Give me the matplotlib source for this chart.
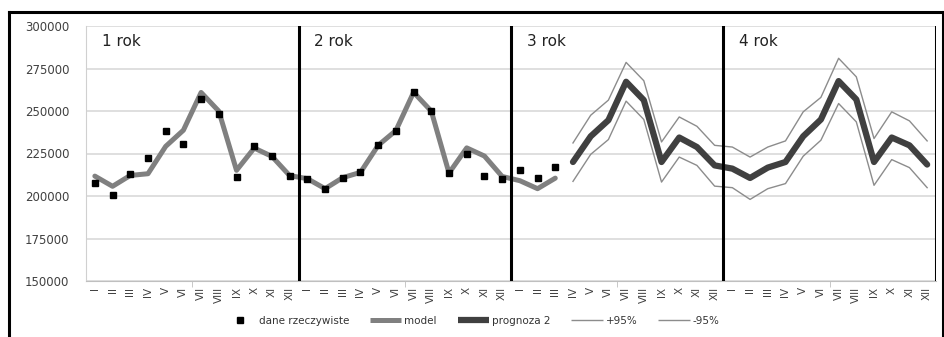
import numpy as np
import matplotlib
matplotlib.use("Agg")
import matplotlib.pyplot as plt
from matplotlib.lines import Line2D

months = ["I", "II", "III", "IV", "V", "VI", "VII", "VIII", "IX", "X", "XI", "XII"]
years = ["1 rok", "2 rok", "3 rok", "4 rok"]

# dane rzeczywiste: rok 1, rok 2, rok 3 (I-III)
actual = [207600, 200400, 213100, 222300, 238500, 230400, 257100, 248100, 211100, 229200, 223300, 211500,
          209800, 204300, 210800, 213900, 229800, 238500, 260900, 249900, 213500, 224700, 212000, 210000,
          215500, 210400, 217300]
# model: rok 1, rok 2, rok 3 (I-III)
model = [211700, 205700, 212100, 213100, 229200, 238700, 260900, 249900, 215100, 228200, 223300, 212000,
         210200, 204300, 210800, 213900, 229800, 238500, 261000, 249900, 213500, 228300, 223500, 211500,
         209000, 204300, 210500]
# prognoza 2: rok 3 (IV-XII), rok 4
forecast = [220000, 235100, 244600, 267200, 256400, 220000, 234400, 228800, 218000,
            216100, 210600, 216700, 220000, 235100, 245000, 267600, 256800, 220000, 234400, 229800, 218500]
upper = [231200, 247500, 256400, 278600, 267800, 231800, 246500, 241000, 229800,
         228800, 222900, 228800, 232400, 249500, 258000, 281000, 270100, 233800, 249500, 244200, 232400]
lower = [208600, 224500, 233200, 255800, 245000, 208200, 222900, 218000, 205800,
         204900, 198000, 204300, 207300, 223400, 232800, 254400, 243600, 206300, 221400, 216700, 204900]

x_actual = np.arange(len(actual))
x_model = np.arange(len(model))
x_fc = np.arange(27, 27 + len(forecast))

fig = plt.figure(figsize=(9.44, 3.37), dpi=100)
ax = fig.add_axes([86 / 944, 1 - 281 / 337, 850 / 944, 255 / 337])

ax.plot(x_model, model, color="#808080", lw=3.6, solid_capstyle="round", solid_joinstyle="round", zorder=3)
ax.plot(x_fc, upper, color="#8c8c8c", lw=1.0, zorder=3)
ax.plot(x_fc, lower, color="#8c8c8c", lw=1.0, zorder=3)
ax.plot(x_fc, forecast, color="#404040", lw=4.5, solid_capstyle="round", solid_joinstyle="round", zorder=4)
ax.plot(x_actual, actual, ls="none", marker="s", ms=5, color="black", zorder=5)

for k in range(4):
    ax.axvline(11.5 + 12 * k, color="black", lw=2.2, zorder=6)
    ax.text(-0.5 + 12 * k + 0.9, 291000, years[k], fontsize=11, color="#222222", va="center", ha="left")

ax.set_xlim(-0.5, 47.5)
ax.set_ylim(150000, 300000)
ax.set_yticks(np.arange(150000, 300001, 25000))
ax.set_yticklabels([str(v) for v in range(150000, 300001, 25000)])
ax.set_xticks(np.arange(48))
ax.set_xticklabels(months * 4, rotation=90, fontsize=7.5)
ax.set_xticks([5.5, 17.5, 29.5, 41.5], minor=True)
ax.tick_params(axis="x", which="major", length=0, pad=4, colors="#404040")
ax.tick_params(axis="x", which="minor", length=4, color="#bfbfbf")
ax.tick_params(axis="y", length=0, pad=12, labelsize=8.5, colors="#404040")
ax.grid(axis="y", color="#d9d9d9", lw=1.2)
ax.set_axisbelow(True)
for s in ["top", "right"]:
    ax.spines[s].set_visible(False)
ax.spines["left"].set_color("#d0d0d0")
ax.spines["bottom"].set_color("#bfbfbf")

handles = [
    Line2D([], [], ls="none", marker="s", ms=5, color="black"),
    Line2D([], [], color="#808080", lw=3.6, solid_capstyle="butt"),
    Line2D([], [], color="#404040", lw=4.5, solid_capstyle="butt"),
    Line2D([], [], color="#8c8c8c", lw=1.0, solid_capstyle="butt"),
    Line2D([], [], color="#8c8c8c", lw=1.0, solid_capstyle="butt"),
]
labels = ["dane rzeczywiste", "model", "prognoza 2", "+95%", "-95%"]
fig.legend(handles, labels, loc="center", bbox_to_anchor=(0.5, 1 - 321 / 337), ncol=5,
           frameon=False, fontsize=7.5, handlelength=3.0, handletextpad=0.3, columnspacing=2.0,
           labelcolor="#333333")

# ramka wykresu
fig.add_artist(Line2D([9 / 944, 9 / 944], [0, 1 - 12 / 337], color="black", lw=2.2, transform=fig.transFigure))
fig.add_artist(Line2D([9 / 944, 943 / 944], [1 - 12 / 337, 1 - 12 / 337], color="black", lw=2.2, transform=fig.transFigure))
fig.add_artist(Line2D([943 / 944, 943 / 944], [0, 1 - 12 / 337], color="black", lw=2.2, transform=fig.transFigure))

fig.savefig("out.png", dpi=100)
